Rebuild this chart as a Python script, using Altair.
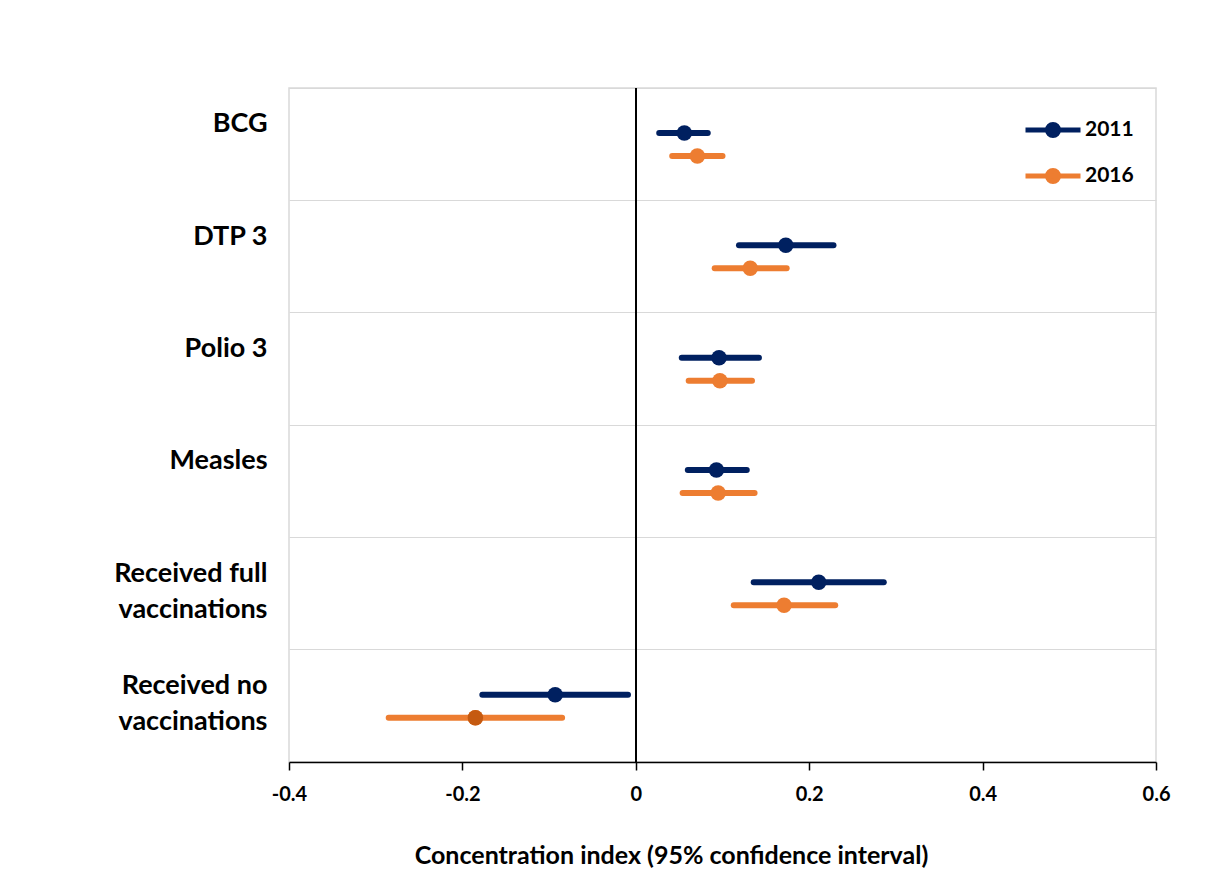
import altair as alt
import pandas as pd

categories = ["BCG", "DTP 3", "Polio 3", "Measles",
              "Received full vaccinations", "Received no vaccinations"]
years = ["2011", "2016"]
est_2011 = [0.056, 0.173, 0.096, 0.093, 0.211, -0.093]
lo_2011 = [0.027, 0.119, 0.053, 0.060, 0.136, -0.177]
hi_2011 = [0.083, 0.228, 0.142, 0.128, 0.286, -0.009]
est_2016 = [0.071, 0.132, 0.097, 0.095, 0.171, -0.185]
lo_2016 = [0.042, 0.091, 0.061, 0.054, 0.113, -0.285]
hi_2016 = [0.100, 0.174, 0.134, 0.137, 0.230, -0.085]
x_ticks = [-0.4, -0.2, 0, 0.2, 0.4, 0.6]

rows = []
for i, c in enumerate(categories):
    rows.append({"cat": c, "year": "2011", "est": est_2011[i], "lo": lo_2011[i], "hi": hi_2011[i]})
    rows.append({"cat": c, "year": "2016", "est": est_2016[i], "lo": lo_2016[i], "hi": hi_2016[i]})
df = pd.DataFrame(rows)

FONT = "Lato"
NAVY = "#002060"
ORANGE = "#ED7D31"

xscale = alt.Scale(domain=[-0.4, 0.6], nice=False, zero=False)
yscale = alt.Scale(domain=categories, paddingInner=0, paddingOuter=0)
yoff = alt.YOffset("year:N", scale=alt.Scale(type="point", domain=years, range=[45, 68], padding=0))
cscale = alt.Scale(domain=years, range=[NAVY, ORANGE])

xaxis = alt.Axis(
    values=x_ticks, labelExpr="'' + datum.value", grid=False, labelFlush=False,
    domainColor="black", domainWidth=1.5, tickColor="black", tickWidth=1.5, tickSize=8,
    labelFont=FONT, labelFontSize=20, labelFontWeight="bold", labelColor="black", labelPadding=14,
    title="Concentration index (95% confidence interval)",
    titleFont=FONT, titleFontSize=25, titleFontWeight="bold", titleColor="black",
    titleX=382, titleY=101, titleBaseline="alphabetic", titleAnchor="start", titleAlign="center",
)
yaxis = alt.Axis(
    title=None, domain=False, ticks=False, grid=True, gridColor="#d9d9d9", gridWidth=1.2,
    bandPosition=0, labelOffset=-20, labelBaseline="middle", labelAlign="right",
    labelPadding=22, labelFont=FONT, labelFontSize=27, labelFontWeight="bold", labelColor="black",
    labelLineHeight=36, labelLimit=400,
    labelExpr="indexof(datum.value, 'Received') == 0 ? [substring(datum.value, 0, lastindexof(datum.value, ' ')), substring(datum.value, lastindexof(datum.value, ' ') + 1)] : datum.value",
)

legend = alt.Legend(
    title=None, orient="none", legendX=734, legendY=12,
    symbolType="M-1,0H1M-0.2,0A0.2,0.2,0,1,1,0.2,0A0.2,0.2,0,1,1,-0.2,0Z",
    symbolSize=3025, symbolStrokeWidth=5, rowPadding=-25,
    labelFont=FONT, labelFontSize=21, labelFontWeight="bold", labelColor="black", labelOffset=2,
)

base = alt.Chart(df)

zero = base.mark_rule(color="black", strokeWidth=1.5).encode(
    x=alt.datum(0, scale=xscale, axis=xaxis)
)

bars = base.mark_rule(strokeWidth=6, strokeCap="round").encode(
    x=alt.X("lo:Q", scale=xscale, axis=xaxis),
    x2="hi:Q",
    y=alt.Y("cat:N", scale=yscale, axis=yaxis, sort=categories),
    yOffset=yoff,
    color=alt.Color("year:N", scale=cscale, legend=legend),
)

points = base.mark_point(filled=True, size=240, opacity=1).encode(
    x=alt.X("est:Q", scale=xscale, axis=xaxis),
    y=alt.Y("cat:N", scale=yscale, axis=yaxis, sort=categories),
    yOffset=yoff,
    color=alt.Color("year:N", scale=cscale, legend=legend),
)

special = base.transform_filter(
    "datum.cat == 'Received no vaccinations' && datum.year == '2016'"
).mark_point(filled=True, size=240, opacity=1, color="#C55A11").encode(
    x=alt.X("est:Q", scale=xscale, axis=xaxis),
    y=alt.Y("cat:N", scale=yscale, axis=yaxis, sort=categories),
    yOffset=yoff,
)

chart = alt.layer(zero, bars, points, special).properties(
    width=867, height=674,
    autosize=alt.AutoSizeParams(type="none"),
    padding={"left": 281, "top": 80, "right": 50, "bottom": 110},
).configure_view(stroke="#d9d9d9", strokeWidth=1.5)

chart.save("out.html", embed_options={"renderer": "svg", "actions": False})
